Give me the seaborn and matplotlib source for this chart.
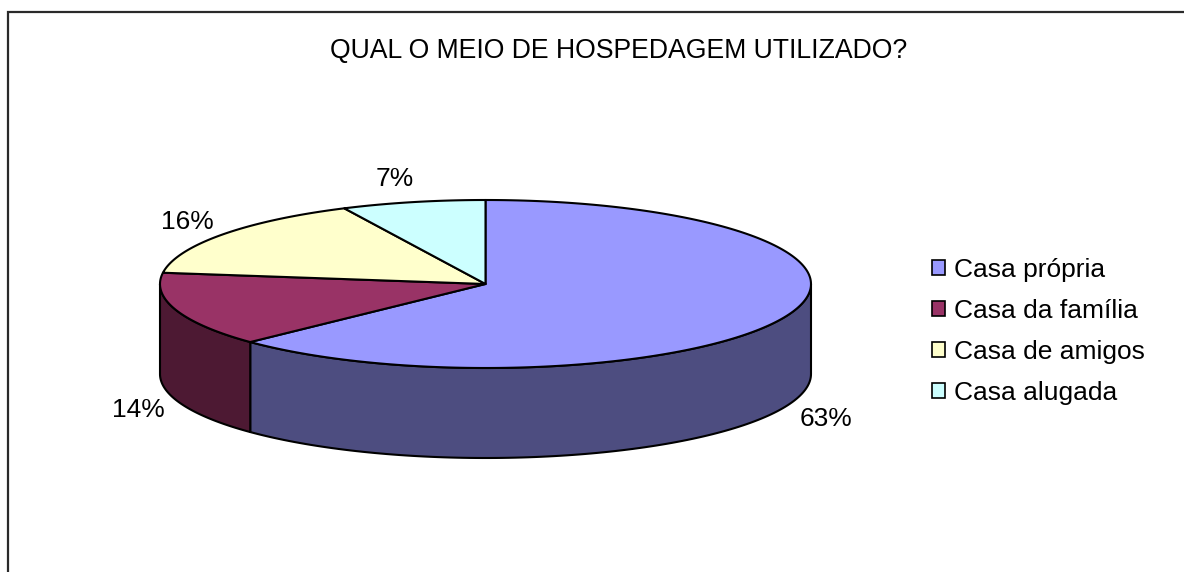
#!/usr/bin/env python3
# -*- coding: utf-8 -*-
import numpy as np
import matplotlib
matplotlib.use('Agg')
import matplotlib.pyplot as plt
from matplotlib.patches import Patch
import seaborn as sns

# data
categorias = ['Casa própria', 'Casa da família', 'Casa de amigos', 'Casa alugada']
respostas = [44, 10, 11, 5]
titulo = 'QUAL O MEIO DE HOSPEDAGEM UTILIZADO?'

sns.set_theme(style='white')
plt.rcParams['font.family'] = ['Liberation Sans', 'DejaVu Sans']

topo = sns.color_palette(['#9999FF', '#993366', '#FFFFCC', '#CCFFFF'])
lado = sns.color_palette(['#4D4D80', '#4D1933', '#808066', '#668080'])

# elipse do pie em pixels da imagem
CX, CY, RX, RY, PROF = 485.5, 284, 325.5, 84, 90
LW = 1.5
DPI = 100

fig = plt.figure(figsize=(11.84, 5.72), dpi=DPI, facecolor='white')
ax = fig.add_axes([0, 0, 1, 1])
ax.set_xlim(0, 1184)
ax.set_ylim(572, 0)
ax.axis('off')


def ponto(ang):
    # angulo em graus a partir das 12h, sentido horario
    r = np.radians(ang)
    return CX + RX * np.sin(r), CY - RY * np.cos(r)


# moldura: so esquerda e topo aparecem, o resto foi cortado na imagem
ax.plot([7.5, 7.5, 1184], [572, 11.5, 11.5], color='#2a2a2a', lw=1.6,
        solid_joinstyle='miter', zorder=1)

total = sum(respostas)
percentuais = [100 * r / total for r in respostas]
limites = np.cumsum([0] + percentuais) * 3.6

# parede lateral, so a parte da frente da elipse (90 a 270 graus)
for i in range(len(respostas)):
    a0, a1 = max(limites[i], 90), min(limites[i + 1], 270)
    if a1 <= a0:
        continue
    t = np.linspace(a0, a1, 120)
    x, y = ponto(t)
    ax.fill(np.r_[x, x[::-1]], np.r_[y, y[::-1] + PROF], facecolor=lado[i],
            edgecolor='black', lw=LW, joinstyle='round', zorder=2)

# fatias de cima
for i in range(len(respostas)):
    t = np.linspace(limites[i], limites[i + 1], 200)
    x, y = ponto(t)
    ax.fill(np.r_[CX, x], np.r_[CY, y], facecolor=topo[i],
            edgecolor='black', lw=LW, joinstyle='round', zorder=3)

# rotulos
pos_rotulos = [(826, 419), (138, 410), (187, 222), (394.5, 179)]
for p, (lx, ly) in zip(percentuais, pos_rotulos):
    ax.text(lx, ly, f'{p:.0f}%', fontsize=19, color='black', ha='center', va='center', zorder=4)

ax.text(618.5, 51, titulo, fontsize=19.2, color='black', ha='center', va='center', zorder=4)

# legenda
handles = [Patch(facecolor=c, edgecolor='black', lw=1.2) for c in topo]
leg = ax.legend(handles, categorias, loc='center left', bbox_to_anchor=(932 / 1184, 1 - 331.5 / 572),
                bbox_transform=ax.transAxes, frameon=False, fontsize=19, handlelength=0.5,
                handleheight=0.5, handletextpad=0.34, labelspacing=0.652, borderpad=0, borderaxespad=0,
                labelcolor='black')
leg.set_zorder(4)

fig.savefig('out.png', dpi=DPI)
